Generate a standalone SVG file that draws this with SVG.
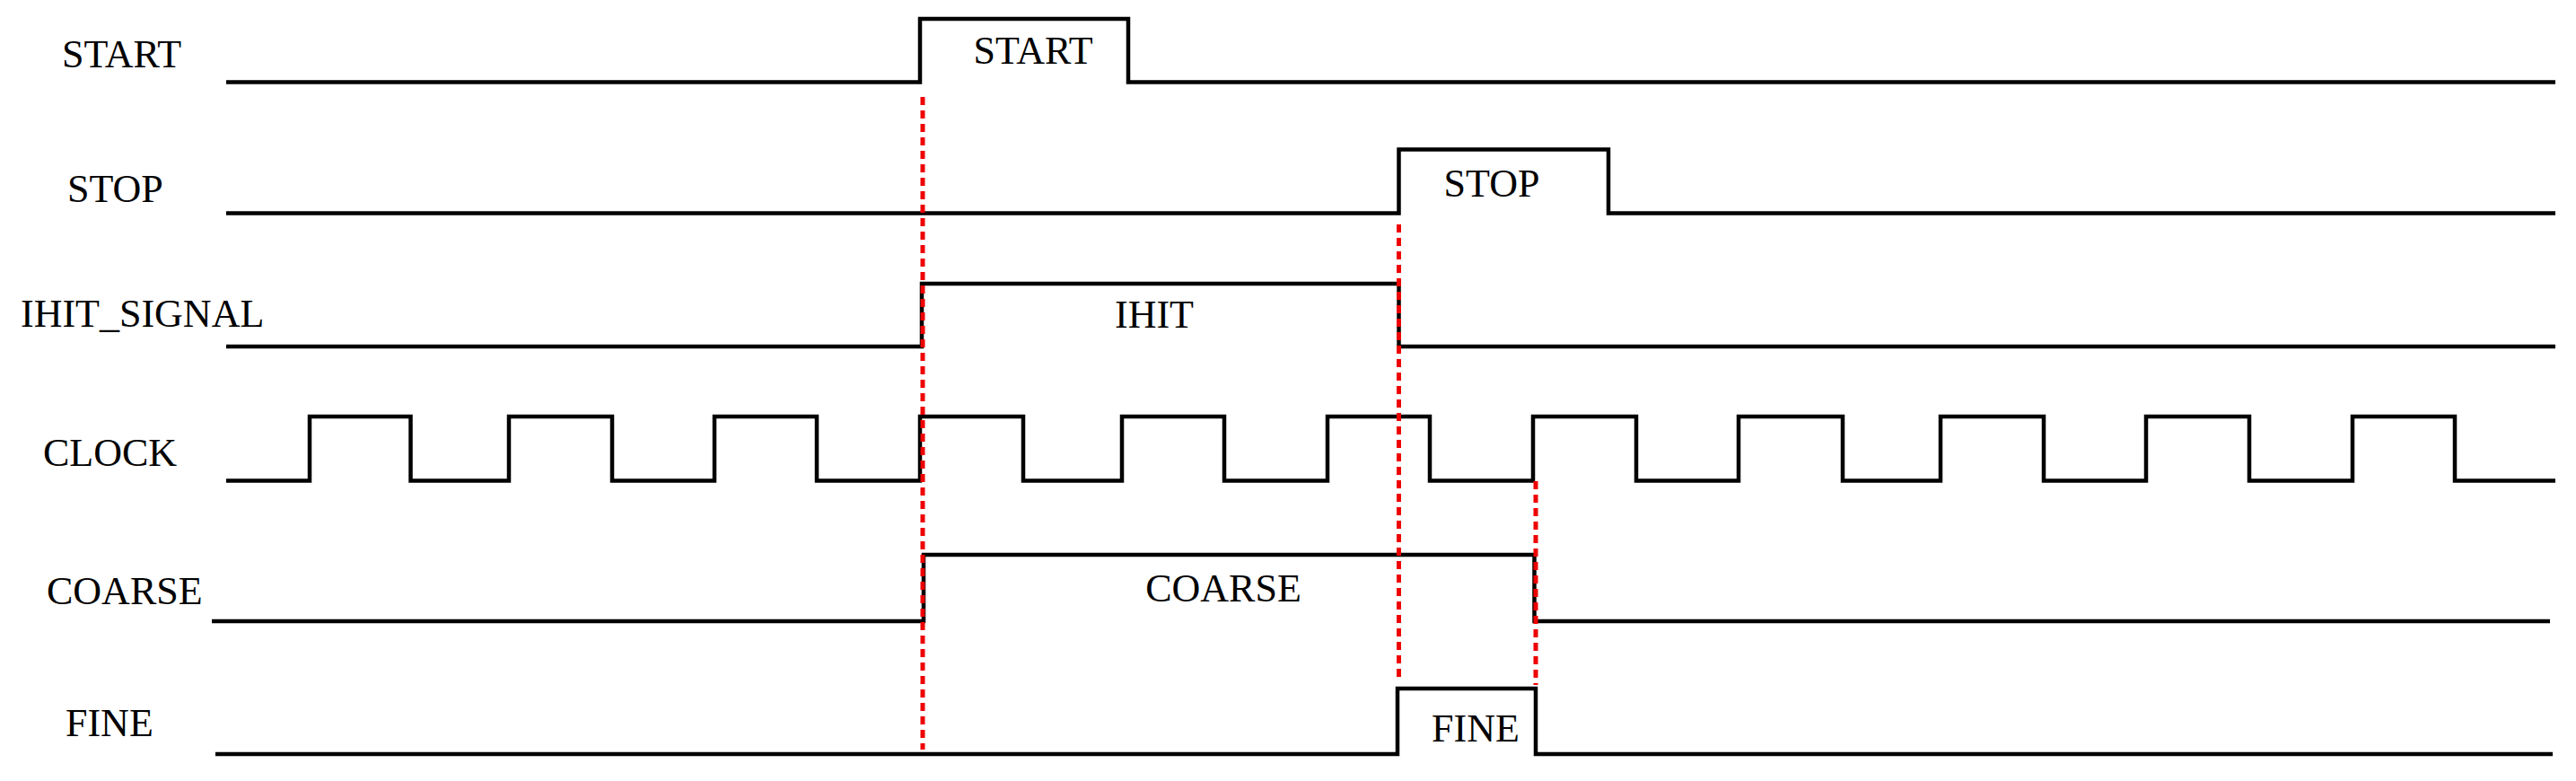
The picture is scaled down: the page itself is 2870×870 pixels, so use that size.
<svg xmlns="http://www.w3.org/2000/svg" width="2870" height="870" viewBox="0 0 2870 870">
<style>
.sig{fill:none;stroke:#000;stroke-width:4.5;stroke-linejoin:miter}
.mark{fill:none;stroke:#e00;stroke-width:5;stroke-dasharray:9 6}
text{font-family:"Liberation Serif","Times New Roman",serif;font-size:44px;fill:#000}
.c{text-anchor:middle}
</style>
<rect width="2870" height="870" fill="#fff"/>
<g id="labels">
<text x="69" y="75">START</text>
<text x="75" y="225">STOP</text>
<text x="23" y="364">IHIT_SIGNAL</text>
<text x="48" y="519">CLOCK</text>
<text x="52" y="673">COARSE</text>
<text x="73" y="820">FINE</text>
</g>
<g id="start"><path class="sig" d="M252 91.5H1025V21H1257V91.5H2847"/><text class="c" x="1151" y="71">START</text></g>
<g id="stop"><path class="sig" d="M252 237.5H1558.5V166.5H1792V237.5H2847"/><text class="c" x="1662" y="219">STOP</text></g>
<g id="ihit"><path class="sig" d="M252 386H1027V316H1558.5V386H2847"/><text class="c" x="1286" y="365">IHIT</text></g>
<g id="clock"><path class="sig" d="M252 535.5H345V464H457.5V535.5H567V464H682V535.5H796V464H910V535.5H1025V464H1140V535.5H1250V464H1364V535.5H1479V464H1593V535.5H1708V464H1823V535.5H1937V464H2053V535.5H2162V464H2277V535.5H2391V464H2506V535.5H2621V464H2735V535.5H2847"/></g>
<g id="coarse"><path class="sig" d="M236 692H1029V618H1709.5V692H2841"/><text class="c" x="1363" y="670">COARSE</text></g>
<g id="fine"><path class="sig" d="M240 840H1557V767H1711V840H2844"/><text class="c" x="1644" y="826">FINE</text></g>
<g id="connectors">
<line class="mark" x1="1028" y1="108" x2="1028" y2="835"/>
<line class="mark" x1="1558.5" y1="250" x2="1558.5" y2="760"/>
<line class="mark" x1="1711" y1="536" x2="1711" y2="763"/>
</g>
</svg>
